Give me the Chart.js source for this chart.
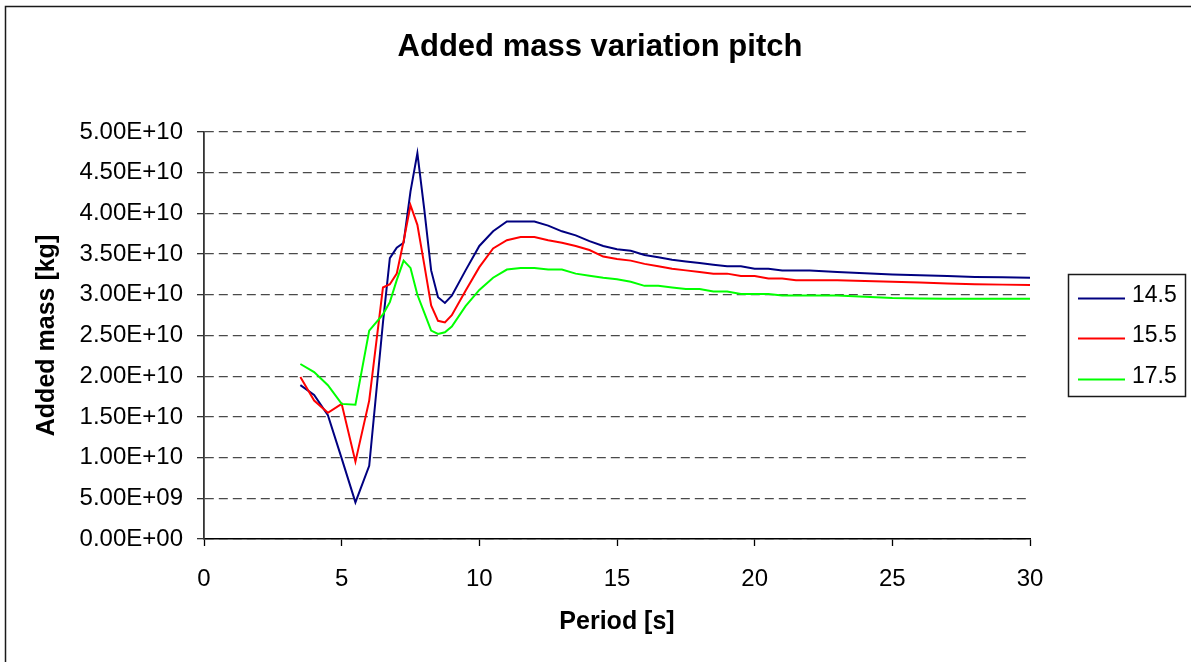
<!DOCTYPE html>
<html>
<head>
<meta charset="utf-8">
<script src="https://cdn.jsdelivr.net/npm/chart.js@4.4.1/dist/chart.umd.min.js"></script>
<style>
  html, body { margin: 0; padding: 0; background: #ffffff; overflow: hidden; }
  #wrap { width: 1191px; height: 662px; position: relative; }
</style>
</head>
<body>
<div id="wrap"><canvas id="c" width="1191" height="662"></canvas></div>
<script>
// Period [s]
const periods = [3.5, 4, 4.5, 5, 5.5, 6, 6.5, 6.75, 7, 7.25, 7.5, 7.75, 8, 8.25, 8.5, 8.75, 9, 9.5, 10, 10.5, 11, 11.5, 12, 12.5, 13, 13.5, 14, 14.5, 15, 15.5, 16, 16.5, 17, 17.5, 18, 18.5, 19, 19.5, 20, 20.5, 21, 21.5, 22, 23, 24, 25, 26, 27, 28, 29, 30];

// Added mass [kg]
const mass145 = [1.89e10, 1.77e10, 1.52e10, 0.99e10, 0.45e10, 0.90e10, 2.66e10, 3.45e10, 3.58e10, 3.64e10, 4.27e10, 4.74e10, 4.05e10, 3.30e10, 2.97e10, 2.90e10, 2.99e10, 3.30e10, 3.60e10, 3.78e10, 3.90e10, 3.90e10, 3.90e10, 3.85e10, 3.78e10, 3.73e10, 3.66e10, 3.60e10, 3.56e10, 3.54e10, 3.49e10, 3.46e10, 3.43e10, 3.41e10, 3.39e10, 3.37e10, 3.35e10, 3.35e10, 3.32e10, 3.32e10, 3.30e10, 3.30e10, 3.30e10, 3.28e10, 3.265e10, 3.25e10, 3.24e10, 3.23e10, 3.22e10, 3.215e10, 3.21e10];
const mass155 = [1.99e10, 1.70e10, 1.55e10, 1.66e10, 0.95e10, 1.70e10, 3.09e10, 3.13e10, 3.26e10, 3.66e10, 4.10e10, 3.86e10, 3.37e10, 2.87e10, 2.68e10, 2.66e10, 2.75e10, 3.05e10, 3.34e10, 3.57e10, 3.67e10, 3.71e10, 3.71e10, 3.67e10, 3.64e10, 3.60e10, 3.55e10, 3.47e10, 3.44e10, 3.42e10, 3.38e10, 3.35e10, 3.32e10, 3.30e10, 3.28e10, 3.26e10, 3.26e10, 3.23e10, 3.23e10, 3.20e10, 3.20e10, 3.18e10, 3.18e10, 3.18e10, 3.17e10, 3.16e10, 3.15e10, 3.14e10, 3.13e10, 3.125e10, 3.12e10];
const mass175 = [2.15e10, 2.05e10, 1.89e10, 1.66e10, 1.65e10, 2.56e10, 2.76e10, 2.91e10, 3.18e10, 3.42e10, 3.33e10, 3.00e10, 2.78e10, 2.56e10, 2.52e10, 2.54e10, 2.61e10, 2.86e10, 3.06e10, 3.21e10, 3.31e10, 3.33e10, 3.33e10, 3.31e10, 3.31e10, 3.26e10, 3.235e10, 3.21e10, 3.19e10, 3.16e10, 3.11e10, 3.11e10, 3.09e10, 3.07e10, 3.07e10, 3.04e10, 3.04e10, 3.01e10, 3.01e10, 3.01e10, 2.99e10, 2.99e10, 2.99e10, 2.99e10, 2.975e10, 2.96e10, 2.955e10, 2.95e10, 2.95e10, 2.95e10, 2.95e10];

const seriesNames = ['14.5', '15.5', '17.5'];
const yTickLabels = ['0.00E+00', '5.00E+09', '1.00E+10', '1.50E+10', '2.00E+10', '2.50E+10', '3.00E+10', '3.50E+10', '4.00E+10', '4.50E+10', '5.00E+10'];
const xTickLabels = ['0', '5', '10', '15', '20', '25', '30'];
const chartTitle = 'Added mass variation pitch';

const FONT = "'Liberation Sans', Arial, sans-serif";

function pts(ys) { return periods.map((p, i) => ({ x: p, y: ys[i] })); }

const frameAndLegend = {
  id: 'frameAndLegend',
  beforeDraw(chart) {
    const ctx = chart.ctx;
    ctx.save();
    ctx.fillStyle = '#ffffff';
    ctx.fillRect(0, 0, chart.width, chart.height);
    ctx.strokeStyle = '#1a1a1a';
    ctx.lineWidth = 1.5;
    ctx.beginPath();
    ctx.moveTo(5.5, chart.height + 2);
    ctx.lineTo(5.5, 6.5);
    ctx.lineTo(chart.width + 2, 6.5);
    ctx.stroke();
    ctx.restore();
  },
  afterDraw(chart) {
    const ctx = chart.ctx;
    ctx.save();
    // title
    ctx.fillStyle = '#000000';
    ctx.font = 'bold 31px ' + FONT;
    ctx.textAlign = 'center';
    ctx.textBaseline = 'middle';
    ctx.fillText(chartTitle, 600, 47);
    // legend
    const bx = 1068.5, by = 274.5, bw = 117, bh = 122;
    ctx.strokeStyle = '#1a1a1a';
    ctx.lineWidth = 1.5;
    ctx.strokeRect(bx, by, bw, bh);
    const rows = [298.5, 338.5, 379.5];
    chart.data.datasets.forEach((ds, i) => {
      const y = rows[i];
      ctx.strokeStyle = ds.borderColor;
      ctx.lineWidth = 2.2;
      ctx.beginPath();
      ctx.moveTo(1078, y);
      ctx.lineTo(1125, y);
      ctx.stroke();
      ctx.fillStyle = '#000000';
      ctx.font = '23px ' + FONT;
      ctx.textAlign = 'left';
      ctx.textBaseline = 'middle';
      ctx.fillText(ds.label, 1132, y - 3);
    });
    ctx.restore();
  }
};

new Chart(document.getElementById('c'), {
  type: 'line',
  data: {
    datasets: [
      { label: seriesNames[0], data: pts(mass145), borderColor: '#000080', borderWidth: 2, pointRadius: 0, tension: 0, fill: false, order: 3 },
      { label: seriesNames[1], data: pts(mass155), borderColor: '#ff0000', borderWidth: 2, pointRadius: 0, tension: 0, fill: false, order: 2 },
      { label: seriesNames[2], data: pts(mass175), borderColor: '#00ff00', borderWidth: 2, pointRadius: 0, tension: 0, fill: false, order: 1 }
    ]
  },
  options: {
    responsive: false,
    animation: false,
    devicePixelRatio: 1,
    layout: { padding: { left: 0, right: 161, top: 132, bottom: 0 } },
    plugins: {
      legend: { display: false },
      tooltip: { enabled: false },
      title: { display: false }
    },
    scales: {
      x: {
        type: 'linear',
        min: 0, max: 30,
        afterFit(scale) { scale.height = 123; },
        ticks: {
          stepSize: 5,
          color: '#000000',
          font: { family: FONT, size: 24 },
          padding: 19,
          maxRotation: 0,
          callback: (v, i) => xTickLabels[i]
        },
        grid: { drawOnChartArea: false, drawTicks: true, tickLength: 7, tickColor: '#000000', tickWidth: 1.3 },
        border: { display: true, color: '#000000', width: 1.5 },
        title: {
          display: true,
          text: 'Period [s]',
          color: '#000000',
          font: { family: FONT, size: 25, weight: 'bold', lineHeight: 1.2 },
          padding: { top: 0, bottom: 25 }
        }
      },
      y: {
        type: 'linear',
        min: 0, max: 5e10,
        afterFit(scale) { scale.width = 204; },
        ticks: {
          stepSize: 5e9,
          color: '#000000',
          font: { family: FONT, size: 24 },
          padding: 14,
          callback: (v, i) => yTickLabels[i]
        },
        grid: { drawOnChartArea: true, drawTicks: true, tickLength: 7, color: '#4a4a4a', lineWidth: 1.3, tickColor: '#333333', tickWidth: 1.3, tickBorderDash: [] },
        border: { display: true, color: '#333333', width: 1.8, dash: [9, 5] },
        title: {
          display: true,
          text: 'Added mass [kg]',
          color: '#000000',
          font: { family: FONT, size: 25, weight: 'bold', lineHeight: 1.2 },
          padding: { top: 32, bottom: 0 }
        }
      }
    }
  },
  plugins: [frameAndLegend]
});
</script>
</body>
</html>
